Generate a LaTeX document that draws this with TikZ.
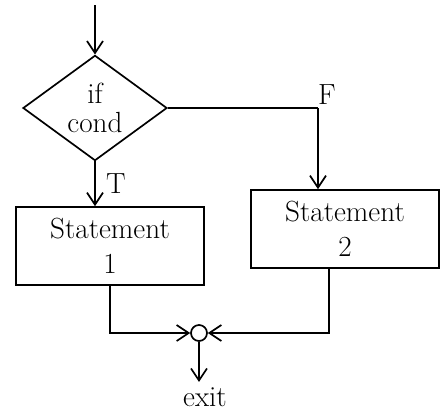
\documentclass[tikz,border=0pt]{standalone}
\usepackage{tikz}
\usetikzlibrary{positioning}
\usetikzlibrary{arrows.meta}
\usetikzlibrary{shapes.geometric}

\begin{document}
\begin{tikzpicture}[x=0.025cm,y=-0.025cm,line width=1.2pt,>={Straight Barb[length=3mm,width=4mm]},
  decision/.style={diamond,draw,inner sep=0pt,minimum width=3.6cm,minimum height=2.2cm,align=center,font=\huge},
  stmt/.style={rectangle,draw,minimum width=4.7cm,minimum height=1.95cm,align=center,font=\huge},
  joint/.style={circle,draw,inner sep=0pt,minimum size=0.4cm}]

\useasboundingbox (0,0) rectangle (445,415);

% decision and the two branches
\node[decision] (cond) at (95,108) {if\\[-4pt]cond};
\coordinate (start) at (95,5);
\node[stmt] (stA) at (110,246) {Statement\\1};
\node[stmt] (stB) at (345,229) {Statement\\2};
\coordinate (fork) at (318,108);

% merge point
\node[joint] (join) at (199,333) {};
\node[font=\huge] (exit) at (205,397) {exit};

\draw[->] (start) -- (cond.north);
\draw[->] (cond.south) -- (cond.south |- stA.north) node[pos=0.5,right=4pt,font=\huge] (t) {T};
\draw (cond.east) -- (fork);
\draw[->] (fork) -- (fork |- stB.north);
\node[font=\huge] (f) at (327,95) {F};

\draw[->] (stA.south) -- (stA.south |- join) -- (join.west);
\draw[->] ([xshift=-0.4cm]stB.south) -- ([xshift=-0.4cm]stB.south |- join) -- (join.east);
\draw[->] (join.south) -- (join.south |- exit.north);
\end{tikzpicture}
\end{document}
